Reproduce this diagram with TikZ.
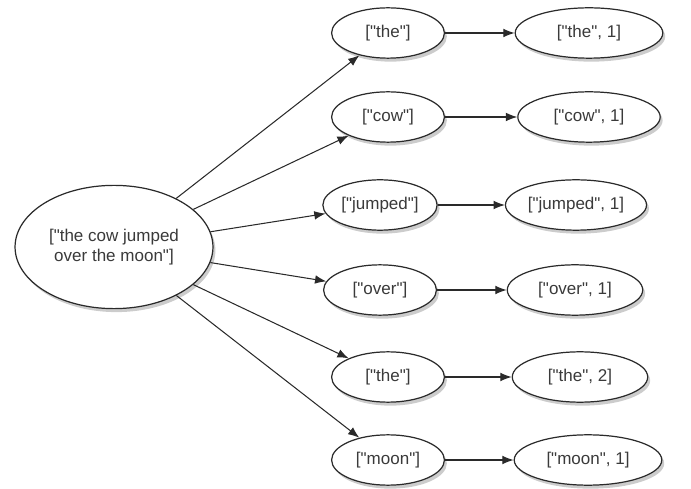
\documentclass[tikz,border=0pt]{standalone}
\usepackage{fontspec}
\setmainfont{Liberation Sans}[Ligatures=TeXOff]
\usepackage{tikz}
\usetikzlibrary{arrows.meta,positioning,shapes,shadows}
\usepackage{xcolor}
\definecolor{wordgray}{HTML}{3A3A3A}
\definecolor{edgegray}{HTML}{2A2A2A}

\tikzset{
  bubble/.style={draw=edgegray, ellipse, fill=white, line width=0.7pt, text=wordgray,
    font=\fontsize{9.8}{11.5}\selectfont, inner sep=1pt,
    drop shadow={opacity=0.4, shadow xshift=1.4pt, shadow yshift=-2pt}},
  splitbox/.style={bubble, minimum width=65pt, minimum height=29pt},
  pairbox/.style={bubble, minimum width=78pt, minimum height=29pt},
  flow/.style={-{Latex[length=6.5pt,width=5pt]}, edgegray, line width=0.6pt}
}

\begin{document}
\begin{tikzpicture}[x=0.576pt, y=-0.576pt]
\useasboundingbox (0,0) rectangle (691,489);
\node[bubble, minimum width=114pt, minimum height=71pt, align=center] (line) at (114,247) {["the cow jumped\\over the moon"]};

\node[splitbox] (w1) at (388,33) {["the"]};
\node[splitbox] (w2) at (388,117) {["cow"]};
\node[splitbox] (w3) at (380,205) {["jumped"]};
\node[splitbox] (w4) at (380,290) {["over"]};
\node[splitbox] (w5) at (388,377) {["the"]};
\node[splitbox] (w6) at (388,460) {["moon"]};

\node[pairbox, minimum width=85pt] (p1) at (589,33) {["the", 1]};
\node[pairbox, minimum width=82pt] (p2) at (589,117) {["cow", 1]};
\node[pairbox] (p3) at (576,205) {["jumped", 1]};
\node[pairbox] (p4) at (575,290) {["over", 1]};
\node[pairbox] (p5) at (580,377) {["the", 2]};
\node[pairbox, minimum width=85pt] (p6) at (588,460) {["moon", 1]};

\foreach \i in {1,...,6} {
  \draw[flow] (line) -- (w\i);
  \draw[flow] (w\i) -- (p\i);
}
\end{tikzpicture}
\end{document}
